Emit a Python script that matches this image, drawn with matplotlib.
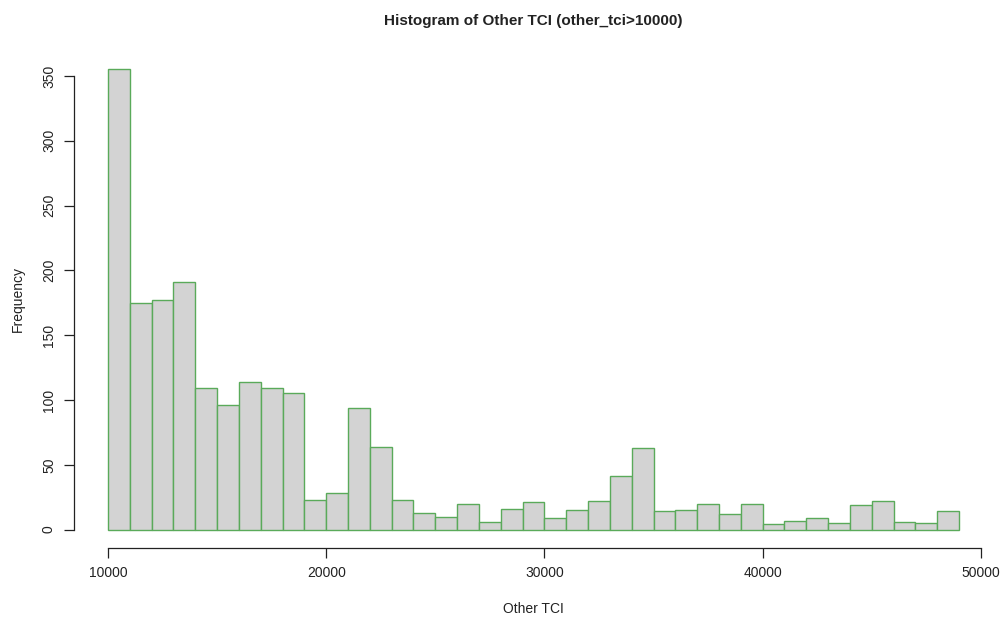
import numpy as np
from matplotlib import pyplot as plt

# histogram counts, bins of width 1000 starting at 10000
bin_start = 10000
bin_width = 1000
counts = [355, 175, 177, 191, 109, 96, 114, 109, 105, 23,
          28, 94, 64, 23, 13, 10, 20, 6, 16, 21,
          9, 15, 22, 41, 63, 14, 15, 20, 12, 20,
          4, 7, 9, 5, 19, 22, 6, 5, 14]
x_ticks = [10000, 20000, 30000, 40000, 50000]
y_ticks = [0, 50, 100, 150, 200, 250, 300, 350]

edges = bin_start + bin_width * np.arange(len(counts) + 1)

plt.rcParams['font.family'] = ['Liberation Sans', 'DejaVu Sans']

fig = plt.figure(figsize=(10.06, 6.18), dpi=100)
W, H = 1006, 618
ax = fig.add_axes([74 / W, 1 - 548 / H, (993 - 74) / W, (548 - 51) / H])

ax.bar(edges[:-1], counts, width=bin_width, align='edge',
       color='#d3d3d3', edgecolor='#5aaa5a', linewidth=1.0)

xr = edges[-1] - edges[0]
ax.set_xlim(edges[0] - 0.04 * xr, edges[-1] + 0.04 * xr)
ymax = max(counts)
ax.set_ylim(-0.04 * ymax, ymax * 1.04)

for s in ['top', 'right']:
    ax.spines[s].set_visible(False)
ax.spines['left'].set_bounds(y_ticks[0], y_ticks[-1])
ax.spines['bottom'].set_bounds(x_ticks[0], x_ticks[-1])
for s in ['left', 'bottom']:
    ax.spines[s].set_linewidth(0.9)
    ax.spines[s].set_color('#222222')

ax.set_xticks(x_ticks)
ax.set_yticks(y_ticks)
ax.set_xticklabels([str(t) for t in x_ticks])
ax.set_yticklabels([str(t) for t in y_ticks], rotation=90, va='center')
ax.tick_params(direction='out', length=7, width=0.9, labelsize=10, pad=6,
               color='#222222', labelcolor='#222222')

ax.set_xlabel("Other TCI", fontsize=10, labelpad=16, color='#222222')
ax.set_ylabel("Frequency", fontsize=10, labelpad=12, color='#222222')
ax.set_title("Histogram of Other TCI (other_tci>10000)", fontsize=11,
             fontweight='bold', pad=19, color='#222222')

fig.savefig("out.png", dpi=100)
